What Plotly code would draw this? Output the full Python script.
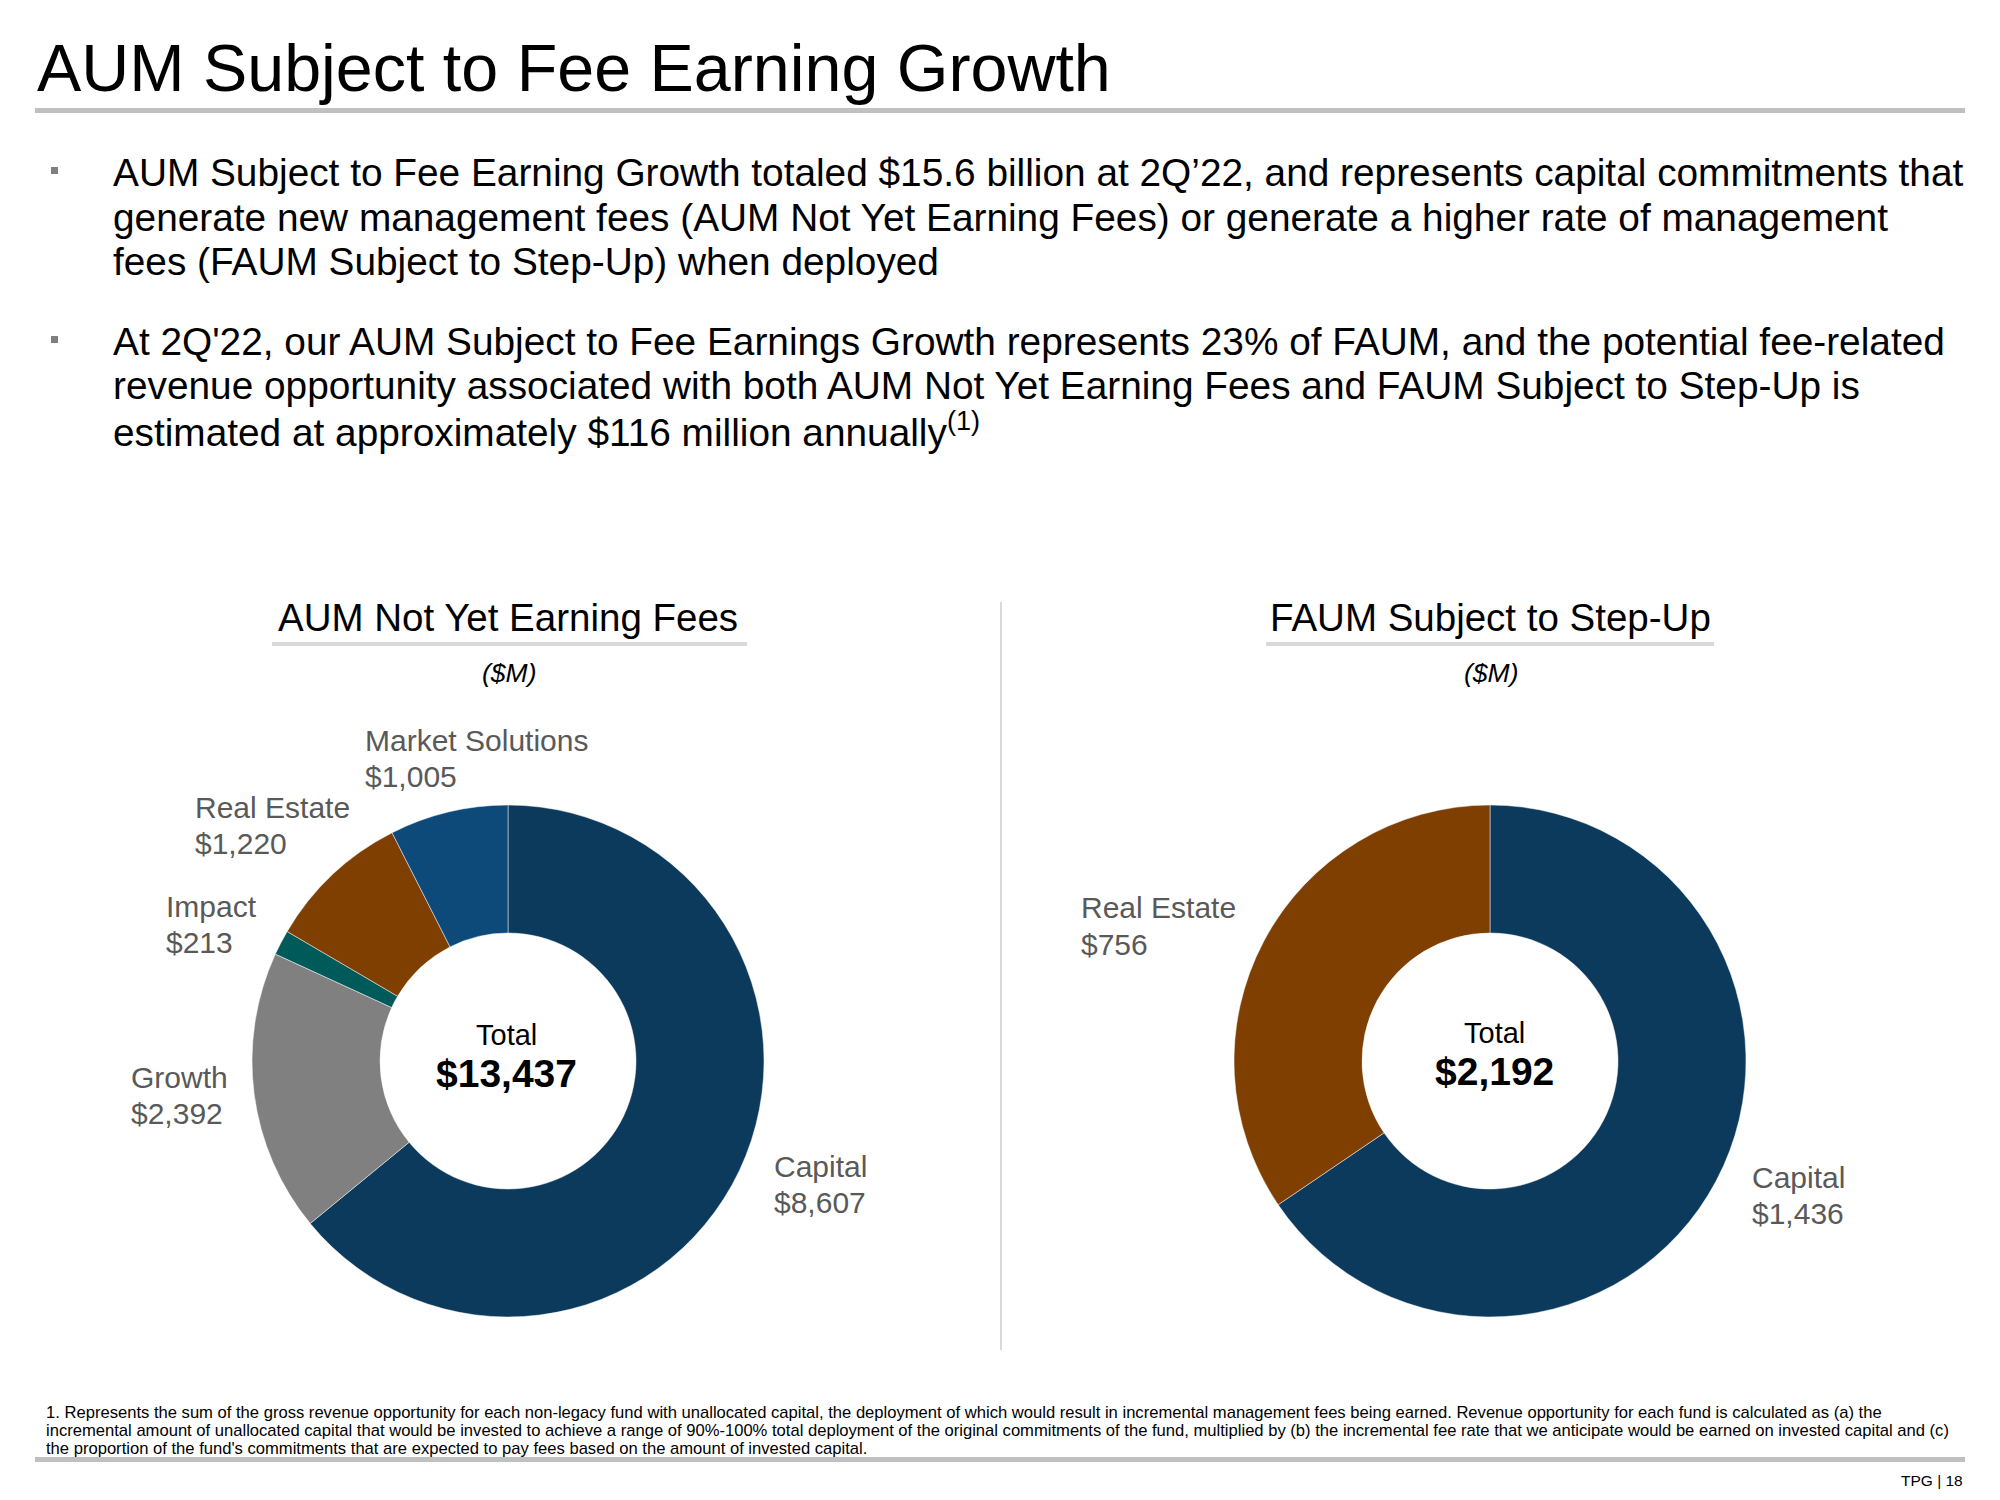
import plotly.graph_objects as go

# ---------------- data ----------------
title_text = "AUM Subject to Fee Earning Growth"

bullet1_lines = [
    "AUM Subject to Fee Earning Growth totaled $15.6 billion at 2Q\u201922, and represents capital commitments that",
    "generate new management fees (AUM Not Yet Earning Fees) or generate a higher rate of management",
    "fees (FAUM Subject to Step-Up) when deployed",
]
bullet2_lines = [
    "At 2Q'22, our AUM Subject to Fee Earnings Growth represents 23% of FAUM, and the potential fee-related",
    "revenue opportunity associated with both AUM Not Yet Earning Fees and FAUM Subject to Step-Up is",
    "estimated at approximately $116 million annually<sup>(1)</sup>",
]

left_title = "AUM Not Yet Earning Fees"
right_title = "FAUM Subject to Step-Up"
unit_label = "($M)"

left_categories = ["Capital", "Growth", "Impact", "Real Estate", "Market Solutions"]
left_values = [8607, 2392, 213, 1220, 1005]
left_colors = ["#0B3A5C", "#808080", "#005A5A", "#7F3F00", "#0D4A7A"]

right_categories = ["Capital", "Real Estate"]
right_values = [1436, 756]
right_colors = ["#0B3A5C", "#7F3F00"]

footnote_lines = [
    "1. Represents the sum of the gross revenue opportunity for each non-legacy fund with unallocated capital, the deployment of which would result in incremental management fees being earned. Revenue opportunity for each fund is calculated as (a) the",
    "incremental amount of unallocated capital that would be invested to achieve a range of 90%-100% total deployment of the original commitments of the fund, multiplied by (b) the incremental fee rate that we anticipate would be earned on invested capital and (c)",
    "the proportion of the fund's commitments that are expected to pay fees based on the amount of invested capital.",
]
page_label = "TPG | 18"

# ---------------- layout helpers ----------------
W, H = 2000, 1500
FONT = "Liberation Sans, Arial, Helvetica, sans-serif"


def px(x):
    return x / W


def py(y):
    return 1 - y / H


annotations = []


def add_text(x, y, text, size, color="#000000", xanchor="left", bold=False, italic=False):
    t = text
    if bold:
        t = "<b>" + t + "</b>"
    if italic:
        t = "<i>" + t + "</i>"
    annotations.append(dict(
        x=px(x), y=py(y), xref="paper", yref="paper", text=t, showarrow=False,
        xanchor=xanchor, yanchor="middle", align=xanchor if xanchor != "center" else "center",
        font=dict(family=FONT, size=size, color=color),
        borderpad=0,
    ))


fig = go.Figure()

# donuts
left_dom_x = [px(508 - 256), px(508 + 256)]
right_dom_x = [px(1490 - 256), px(1490 + 256)]
dom_y = [py(1061 + 256), py(1061 - 256)]

fig.add_trace(go.Pie(
    labels=left_categories, values=left_values, hole=0.5, sort=False,
    direction="clockwise", rotation=0, textinfo="none",
    marker=dict(colors=left_colors, line=dict(color="rgba(255,255,255,0.6)", width=0.8)),
    domain=dict(x=left_dom_x, y=dom_y), showlegend=False,
))
fig.add_trace(go.Pie(
    labels=right_categories, values=right_values, hole=0.5, sort=False,
    direction="clockwise", rotation=0, textinfo="none",
    marker=dict(colors=right_colors, line=dict(color="rgba(255,255,255,0.6)", width=0.8)),
    domain=dict(x=right_dom_x, y=dom_y), showlegend=False,
))

# title
add_text(36, 68, title_text, 66.4)

# bullets
for i, line in enumerate(bullet1_lines):
    add_text(112, 172 + 45 * i, line, 38.8)
for i, line in enumerate(bullet2_lines):
    add_text(112, 341 + 44.5 * i, line, 38.8)

# section titles
add_text(508, 618, left_title, 38.5, xanchor="center")
add_text(1490, 618, right_title, 38.5, xanchor="center")
add_text(509, 673, unit_label, 26.5, xanchor="center", italic=True)
add_text(1491, 673, unit_label, 26.5, xanchor="center", italic=True)

# slice labels
LBL = "#595959"
left_label_pos = {
    "Capital": (773, 1166),
    "Growth": (130, 1077),
    "Impact": (165, 906),
    "Real Estate": (194, 807),
    "Market Solutions": (364, 740),
}
for cat, val in zip(left_categories, left_values):
    x, y = left_label_pos[cat]
    add_text(x, y, cat, 30, LBL)
    add_text(x, y + 36, f"${val:,}", 30, LBL)

right_label_pos = {
    "Capital": (1751, 1177),
    "Real Estate": (1080, 908),
}
for cat, val in zip(right_categories, right_values):
    x, y = right_label_pos[cat]
    add_text(x, y, cat, 30, LBL)
    add_text(x, y + 36, f"${val:,}", 30, LBL)

# center totals
add_text(506, 1035, "Total", 29, xanchor="center")
add_text(506, 1073, f"${sum(left_values):,}", 39, xanchor="center", bold=True)
add_text(1494, 1033, "Total", 29, xanchor="center")
add_text(1494, 1071, f"${sum(right_values):,}", 39, xanchor="center", bold=True)

# footnote
for i, line in enumerate(footnote_lines):
    add_text(45, 1412 + 18 * i, line, 16.6)
add_text(1964, 1480, page_label, 15.5, xanchor="right")

# shapes: rules, underlines, divider, bullet markers
shapes = [
    dict(type="rect", xref="paper", yref="paper", x0=px(35), x1=px(1965), y0=py(113), y1=py(108),
         fillcolor="#C0C0C0", line=dict(width=0)),
    dict(type="rect", xref="paper", yref="paper", x0=px(35), x1=px(1965), y0=py(1462), y1=py(1457),
         fillcolor="#C0C0C0", line=dict(width=0)),
    dict(type="rect", xref="paper", yref="paper", x0=px(272), x1=px(747), y0=py(646), y1=py(642),
         fillcolor="#D9D9D9", line=dict(width=0)),
    dict(type="rect", xref="paper", yref="paper", x0=px(1266), x1=px(1714), y0=py(646), y1=py(642),
         fillcolor="#D9D9D9", line=dict(width=0)),
    dict(type="line", xref="paper", yref="paper", x0=px(1001), x1=px(1001), y0=py(602), y1=py(1350),
         line=dict(color="#D9D9D9", width=2)),
    dict(type="rect", xref="paper", yref="paper", x0=px(51), x1=px(58), y0=py(174), y1=py(167),
         fillcolor="#7F7F7F", line=dict(width=0)),
    dict(type="rect", xref="paper", yref="paper", x0=px(51), x1=px(58), y0=py(343), y1=py(336),
         fillcolor="#7F7F7F", line=dict(width=0)),
]

fig.update_layout(
    width=W, height=H,
    margin=dict(l=0, r=0, t=0, b=0),
    paper_bgcolor="white", plot_bgcolor="white",
    font=dict(family=FONT),
    annotations=annotations,
    shapes=shapes,
    showlegend=False,
)

fig.write_html("out.html", config={"displayModeBar": False},
               post_script="document.body.style.margin='0';")
